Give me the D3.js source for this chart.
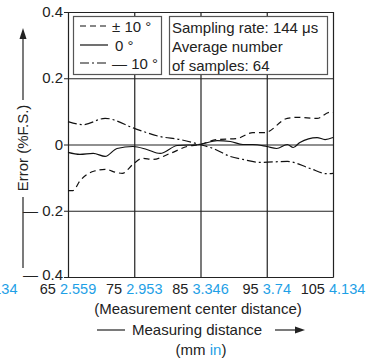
<!DOCTYPE html>
<html>
<head>
<meta charset="utf-8">
<script src="https://cdn.jsdelivr.net/npm/d3@7"></script>
<style>
  body { margin: 0; background: #fff; }
  text { font-family: "Liberation Sans", Arial, sans-serif; fill: #222; }
</style>
</head>
<body>
<script>
  // data
  var xTicks = [65, 75, 85, 95, 105];
  var inchLabels = ["2.559", "2.953", "3.346", "3.74", "4.134"];
  var yTicks = [-0.4, -0.2, 0, 0.2, 0.4];

  var seriesNames = ["\u00b1 10 \u00b0", "0 \u00b0", "\u2014 10 \u00b0"];

  var plus10 = [[65,-0.139],[65.75,-0.139],[66.8,-0.11],[67.9,-0.09],[69,-0.08],[70.6,-0.075],[72.4,-0.085],
    [73.2,-0.087],[74.8,-0.06],[76.2,-0.042],[77.8,-0.045],[80.4,-0.027],[83,-0.006],[84.9,0],[87.5,0.015],
    [90.5,0.018],[92.9,0.036],[94.7,0.036],[98.1,0.079],[99.6,0.082],[102.6,0.079],[104.5,0.097],[105,0.097]];

  var zero = [[65,-0.024],[66.8,-0.03],[68.8,-0.027],[70.6,-0.036],[72.4,-0.012],[74.8,-0.006],[76.9,-0.015],
    [78.9,-0.027],[81.5,-0.003],[84.9,0],[87.5,0.012],[89.5,0.009],[91.4,0],[92.9,0],[95,-0.006],[96.5,-0.012],
    [98.1,0],[99,-0.009],[100,0.006],[102.6,0.021],[103.8,0.015],[105,0.021]];

  var minus10 = [[65,0.069],[67.3,0.06],[70.6,0.079],[75.1,0.048],[78.9,0.024],[81.9,0.015],[84.9,0],
    [86.9,-0.012],[89.5,-0.036],[91.4,-0.045],[94,-0.054],[98.1,-0.051],[101.5,-0.072],[104,-0.088],[105,-0.087]];

  var noteLines = ["Sampling rate: 144 \u03bcs", "Average number", "of samples: 64"];

  var blue = "#1ea0e6",
      ink = "#222",
      dashes = ["6,4", null, "9,3,2,3"];

  var width = 375, height = 359;
  var padL = 68, padT = 12, plotW = 265, plotH = 265;

  var x = d3.scaleLinear().domain([65, 105]).range([padL, padL + plotW]);
  var y = d3.scaleLinear().domain([-0.4, 0.4]).range([padT + plotH, padT]);

  var svg = d3.select("body").append("svg")
      .attr("width", width)
      .attr("height", height);

  // grid
  svg.append("g").selectAll("line").data(xTicks).enter().append("line")
      .attr("x1", d => x(d) + 0.5).attr("x2", d => x(d) + 0.5)
      .attr("y1", y(0.4)).attr("y2", y(-0.4) + 0.5)
      .attr("stroke", ink).attr("stroke-width", 1.2);
  svg.append("g").selectAll("line").data(yTicks).enter().append("line")
      .attr("x1", x(65) - 4).attr("x2", x(105) + 0.5)
      .attr("y1", d => y(d) + 0.5).attr("y2", d => y(d) + 0.5)
      .attr("stroke", ink).attr("stroke-width", 1.2);

  // y tick labels
  svg.append("g").selectAll("text").data(yTicks).enter().append("text")
      .attr("x", x(65) - 5)
      .attr("y", d => y(d) + (d === -0.4 ? 2.5 : 5))
      .attr("text-anchor", "end")
      .attr("font-size", 15)
      .text(d => d < 0 ? "\u2014 " + d3.format(".1f")(-d) : (d === 0 ? "0" : d3.format(".1f")(d)));

  // x tick labels: mm black, inch blue
  var xl = svg.append("g").selectAll("text").data(xTicks).enter().append("text")
      .attr("x", d => x(d))
      .attr("y", 293.5)
      .attr("text-anchor", "middle")
      .attr("font-size", 14.5);
  xl.append("tspan").text(d => d + " ");
  xl.append("tspan").style("fill", blue).text((d, i) => inchLabels[i]);

  // stray label cut at the left edge
  svg.append("text").attr("x", 17.5).attr("y", 293.5).attr("text-anchor", "end")
      .attr("font-size", 14.5).style("fill", blue).text(inchLabels[4]);

  // series
  var line = d3.line()
      .x(d => x(d[0]))
      .y(d => y(d[1]))
      .curve(d3.curveMonotoneX);

  [plus10, zero, minus10].forEach(function(s, i) {
    svg.append("path")
        .datum(s)
        .attr("d", line)
        .attr("fill", "none")
        .attr("stroke", "#111")
        .attr("stroke-width", 1.2)
        .attr("stroke-dasharray", dashes[i]);
  });

  // legend box
  svg.append("rect").attr("x", 73.5).attr("y", 16.5).attr("width", 88).attr("height", 58)
      .attr("fill", "#fff").attr("stroke", "#555").attr("stroke-width", 1.2);
  var legRows = [26, 45, 63];
  seriesNames.forEach(function(n, i) {
    svg.append("line").attr("x1", 80).attr("x2", 108)
        .attr("y1", legRows[i]).attr("y2", legRows[i])
        .attr("stroke", "#111").attr("stroke-width", 1.2)
        .attr("stroke-dasharray", dashes[i]);
    svg.append("text").attr("x", i === 1 ? 115 : 112).attr("y", legRows[i] + 6)
        .attr("font-size", 15).text(n);
  });

  // note box
  svg.append("rect").attr("x", 169.5).attr("y", 16.5).attr("width", 158).attr("height", 58)
      .attr("fill", "#fff").attr("stroke", "#555").attr("stroke-width", 1.2);
  svg.append("g").selectAll("text").data(noteLines).enter().append("text")
      .attr("x", 172)
      .attr("y", (d, i) => 33 + i * 19)
      .attr("font-size", 15)
      .text(d => d);

  // y axis title with arrow
  svg.append("line").attr("x1", 23).attr("x2", 23).attr("y1", 36).attr("y2", 100)
      .attr("stroke", ink).attr("stroke-width", 1.2);
  svg.append("line").attr("x1", 23).attr("x2", 23).attr("y1", 197).attr("y2", 268)
      .attr("stroke", ink).attr("stroke-width", 1.2);
  svg.append("path").attr("d", "M23,28 L19.5,39 L26.5,39 Z").attr("fill", ink);
  svg.append("text")
      .attr("transform", "translate(28,148) rotate(-90)")
      .attr("text-anchor", "middle")
      .attr("font-size", 15)
      .text("Error (%F.S.)");

  // x axis titles
  svg.append("text").attr("x", 198).attr("y", 314).attr("text-anchor", "middle")
      .attr("font-size", 15).text("(Measurement center distance)");
  svg.append("line").attr("x1", 97).attr("x2", 125).attr("y1", 330).attr("y2", 330)
      .attr("stroke", ink).attr("stroke-width", 1.2);
  svg.append("text").attr("x", 132).attr("y", 335)
      .attr("font-size", 15).text("Measuring distance");
  svg.append("line").attr("x1", 275).attr("x2", 298).attr("y1", 330).attr("y2", 330)
      .attr("stroke", ink).attr("stroke-width", 1.2);
  svg.append("path").attr("d", "M305,330 L295,326.5 L295,333.5 Z").attr("fill", ink);

  var unit = svg.append("text").attr("x", 201).attr("y", 355).attr("text-anchor", "middle")
      .attr("font-size", 15);
  unit.append("tspan").text("(mm ");
  unit.append("tspan").style("fill", blue).text("in");
  unit.append("tspan").text(")");
</script>
</body>
</html>
